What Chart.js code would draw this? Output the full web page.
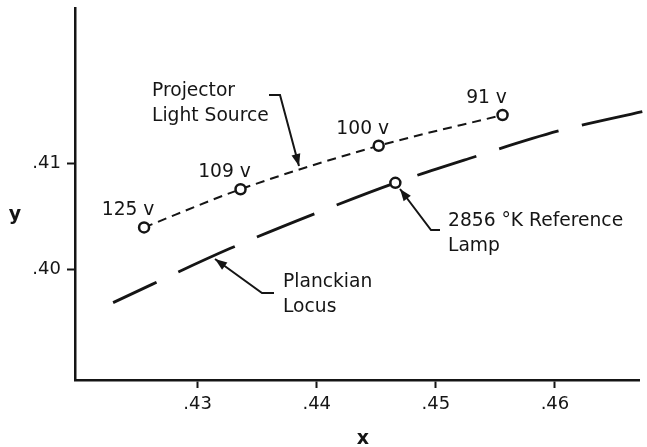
<!DOCTYPE html>
<html>
<head>
<meta charset="utf-8">
<script src="https://cdn.jsdelivr.net/npm/chart.js@4"></script>
<style>
  html, body { margin: 0; padding: 0; background: #fff; }
</style>
</head>
<body>
<canvas id="c" width="647" height="447"></canvas>
<script>
// projector light source, measured at four lamp voltages
const projX = [0.4255, 0.4336, 0.4452, 0.4556];
const projY = [0.4040, 0.4076, 0.4117, 0.4146];
const projLabels = ['125 v', '109 v', '100 v', '91 v'];

// planckian locus
const locusX = [0.4229, 0.4327, 0.4412, 0.4466, 0.4528, 0.4603, 0.4676];
const locusY = [0.3969, 0.4020, 0.4059, 0.4082, 0.4105, 0.4131, 0.4150];

// 2856 K reference lamp
const lampX = [0.4466];
const lampY = [0.4082];

const xTicks = [0.43, 0.44, 0.45, 0.46];
const yTicks = [0.40, 0.41];

const INK = '#151515';
const FONT = '"DejaVu Sans", Verdana, sans-serif';

const pts = (xs, ys) => xs.map((x, i) => ({ x, y: ys[i] }));
const fmt = (v) => Number(v).toFixed(2).replace(/^0/, '');

function arrowLine(ctx, path) {
  ctx.beginPath();
  ctx.moveTo(path[0][0], path[0][1]);
  path.slice(1).forEach((p) => ctx.lineTo(p[0], p[1]));
  ctx.stroke();
  // head at the last point
  const [tx, ty] = path[path.length - 1];
  const [fx, fy] = path[path.length - 2];
  const a = Math.atan2(ty - fy, tx - fx);
  const len = 12, half = 4.5;
  ctx.beginPath();
  ctx.moveTo(tx, ty);
  ctx.lineTo(tx - len * Math.cos(a) + half * Math.sin(a), ty - len * Math.sin(a) - half * Math.cos(a));
  ctx.lineTo(tx - len * Math.cos(a) - half * Math.sin(a), ty - len * Math.sin(a) + half * Math.cos(a));
  ctx.closePath();
  ctx.fill();
}

const notes = {
  id: 'notes',
  afterDraw(c) {
    const ctx = c.ctx, xs = c.scales.x, ys = c.scales.y;
    ctx.save();
    ctx.fillStyle = INK;
    ctx.strokeStyle = INK;
    ctx.lineWidth = 2;
    ctx.font = '18.7px ' + FONT;
    ctx.textBaseline = 'alphabetic';

    // voltage labels above each point
    ctx.textAlign = 'center';
    projLabels.forEach((t, i) => {
      const px = xs.getPixelForValue(projX[i]);
      const py = ys.getPixelForValue(projY[i]);
      ctx.fillText(t, px - 16, py - 12);
    });

    ctx.textAlign = 'left';
    ctx.fillText('Projector', 152, 96);
    ctx.fillText('Light Source', 152, 121);
    ctx.fillText('2856 °K Reference', 448, 226);
    ctx.fillText('Lamp', 448, 251);
    ctx.fillText('Planckian', 283, 287);
    ctx.fillText('Locus', 283, 312);

    arrowLine(ctx, [[269, 95], [280, 95], [299, 166]]);
    arrowLine(ctx, [[440, 230], [431, 230], [400, 189]]);
    arrowLine(ctx, [[274, 293], [262, 293], [215, 259]]);

    // axis titles
    ctx.font = 'bold 19px ' + FONT;
    ctx.textAlign = 'center';
    ctx.fillText('y', 15, 220);
    ctx.fillText('x', 363, 444);
    ctx.restore();
  }
};

new Chart(document.getElementById('c'), {
  type: 'scatter',
  data: {
    datasets: [
      {
        data: pts(lampX, lampY),
        showLine: false,
        pointRadius: 5,
        pointBorderWidth: 2.5,
        pointBorderColor: INK,
        pointBackgroundColor: '#fff',
      },
      {
        data: pts(projX, projY),
        showLine: true,
        borderColor: INK,
        borderWidth: 2,
        borderDash: [9, 6],
        cubicInterpolationMode: 'monotone',
        pointRadius: 5,
        pointBorderWidth: 2.5,
        pointBorderColor: INK,
        pointBackgroundColor: '#fff',
        clip: false,
      },
      {
        data: pts(locusX, locusY),
        showLine: true,
        borderColor: INK,
        borderWidth: 2.8,
        borderDash: [62, 24],
        borderDashOffset: 14,
        cubicInterpolationMode: 'monotone',
        pointRadius: 0,
        clip: false,
      },
    ],
  },
  options: {
    responsive: false,
    animation: false,
    layout: { padding: { top: 8, right: 7, left: 0, bottom: 0 } },
    plugins: { legend: { display: false }, tooltip: { enabled: false } },
    scales: {
      x: {
        type: 'linear',
        min: 0.4197,
        max: 0.4671,
        afterBuildTicks: (s) => { s.ticks = xTicks.map((v) => ({ value: v })); },
        afterFit: (s) => { s.height = 67; s.paddingLeft = 0; s.paddingRight = 0; },
        border: { display: true, color: INK, width: 2.5 },
        grid: { display: true, drawOnChartArea: false, drawTicks: true, tickLength: 8, tickWidth: 2, tickColor: INK },
        ticks: { color: INK, font: { family: FONT, size: 18 }, padding: 6, maxRotation: 0, callback: fmt },
      },
      y: {
        type: 'linear',
        min: 0.3896,
        max: 0.4247,
        afterBuildTicks: (s) => { s.ticks = yTicks.map((v) => ({ value: v })); },
        afterFit: (s) => { s.width = 75; s.paddingTop = 0; s.paddingBottom = 0; },
        border: { display: true, color: INK, width: 2.5 },
        grid: { display: true, drawOnChartArea: false, drawTicks: true, tickLength: 8, tickWidth: 2, tickColor: INK },
        ticks: { color: INK, font: { family: FONT, size: 18 }, padding: 6, callback: fmt },
      },
    },
  },
  plugins: [notes],
});
</script>
</body>
</html>
